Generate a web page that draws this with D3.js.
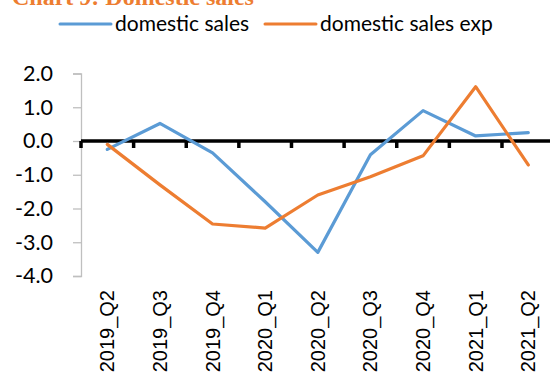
<!DOCTYPE html>
<html>
<head>
<meta charset="utf-8">
<script src="https://cdn.jsdelivr.net/npm/d3@7"></script>
<style>
  html, body { margin: 0; padding: 0; background: #fff; }
  svg { display: block; }
</style>
</head>
<body>
<svg id="chart" width="550" height="374"></svg>
<script>
// Quarterly domestic sales balance vs. expectations
const quarters = ["2019_Q2", "2019_Q3", "2019_Q4", "2020_Q1", "2020_Q2", "2020_Q3", "2020_Q4", "2021_Q1", "2021_Q2"];
const domesticSales = [-0.25, 0.52, -0.35, -1.8, -3.3, -0.41, 0.9, 0.15, 0.25];
const domesticSalesExp = [-0.1, -1.3, -2.46, -2.58, -1.6, -1.06, -0.44, 1.61, -0.71];
const yTicks = [2, 1, 0, -1, -2, -3, -4];
const seriesNames = ["domestic sales", "domestic sales exp"];
const seriesColors = ["#5b9bd5", "#ed7d31"];

const svg = d3.select("#chart");
const labelFont = "Lato, 'Open Sans', sans-serif";

const x = d3.scaleBand().domain(quarters).range([81, 554.6]).padding(0);
const y = d3.scaleLinear().domain([-4, 2]).range([276, 73.5]);

// Title (partly above the visible area)
svg.append("text")
  .attr("x", 12).attr("y", 5)
  .attr("font-family", "'Liberation Serif', serif")
  .attr("font-weight", "bold")
  .attr("font-size", 24)
  .attr("fill", "#ed7d31")
  .text("Chart 9: Domestic sales");

// Legend
const legendItems = [
  { x0: 60, name: seriesNames[0], color: seriesColors[0] },
  { x0: 265, name: seriesNames[1], color: seriesColors[1] }
];
legendItems.forEach(d => {
  svg.append("line")
    .attr("x1", d.x0).attr("x2", d.x0 + 51)
    .attr("y1", 24).attr("y2", 24)
    .attr("stroke", d.color).attr("stroke-width", 3)
    .attr("stroke-linecap", "round");
  svg.append("text")
    .attr("x", d.x0 + 55).attr("y", 31)
    .attr("font-family", labelFont)
    .attr("font-size", 21)
    .attr("fill", "#000")
    .text(d.name);
});

// Y axis
const yAxis = svg.append("g")
  .attr("transform", "translate(81,0)")
  .call(d3.axisLeft(y).tickValues(yTicks).tickFormat(d3.format(".1f")).tickSize(8).tickPadding(20));
yAxis.select(".domain").attr("stroke", "#bfbfbf").attr("stroke-width", 1.3);
yAxis.selectAll(".tick line").attr("stroke", "#bfbfbf").attr("stroke-width", 1.3);
yAxis.selectAll(".tick text")
  .attr("font-family", labelFont)
  .attr("font-size", 21.5)
  .attr("fill", "#000")
  .text(d => d3.format(".1f")(d).replace("−", "-"));

// Zero line with category boundary ticks
const xAxis = svg.append("g")
  .attr("transform", `translate(0,${y(0)})`);
xAxis.append("line")
  .attr("x1", 81).attr("x2", 560)
  .attr("stroke", "#000").attr("stroke-width", 3.5);
xAxis.selectAll(".btick")
  .data(quarters)
  .join("line")
  .attr("class", "btick")
  .attr("x1", d => x(d)).attr("x2", d => x(d))
  .attr("y1", 0).attr("y2", 7)
  .attr("stroke", "#000").attr("stroke-width", 3.5);

// Category labels below the plot, rotated
svg.append("g")
  .selectAll("text")
  .data(quarters)
  .join("text")
  .attr("transform", d => `translate(${x(d) + x.bandwidth() / 2 + 7},290) rotate(-90)`)
  .attr("text-anchor", "end")
  .attr("font-family", "'Liberation Sans', Arial, sans-serif")
  .attr("font-size", 20)
  .attr("fill", "#000")
  .text(d => d);

// Series lines
const line = d3.line()
  .x((d, i) => x(quarters[i]) + x.bandwidth() / 2)
  .y(d => y(d));

[domesticSales, domesticSalesExp].forEach((vals, k) => {
  svg.append("path")
    .datum(vals)
    .attr("d", line)
    .attr("fill", "none")
    .attr("stroke", seriesColors[k])
    .attr("stroke-width", 3.2)
    .attr("stroke-linejoin", "round")
    .attr("stroke-linecap", "round");
});
</script>
</body>
</html>
